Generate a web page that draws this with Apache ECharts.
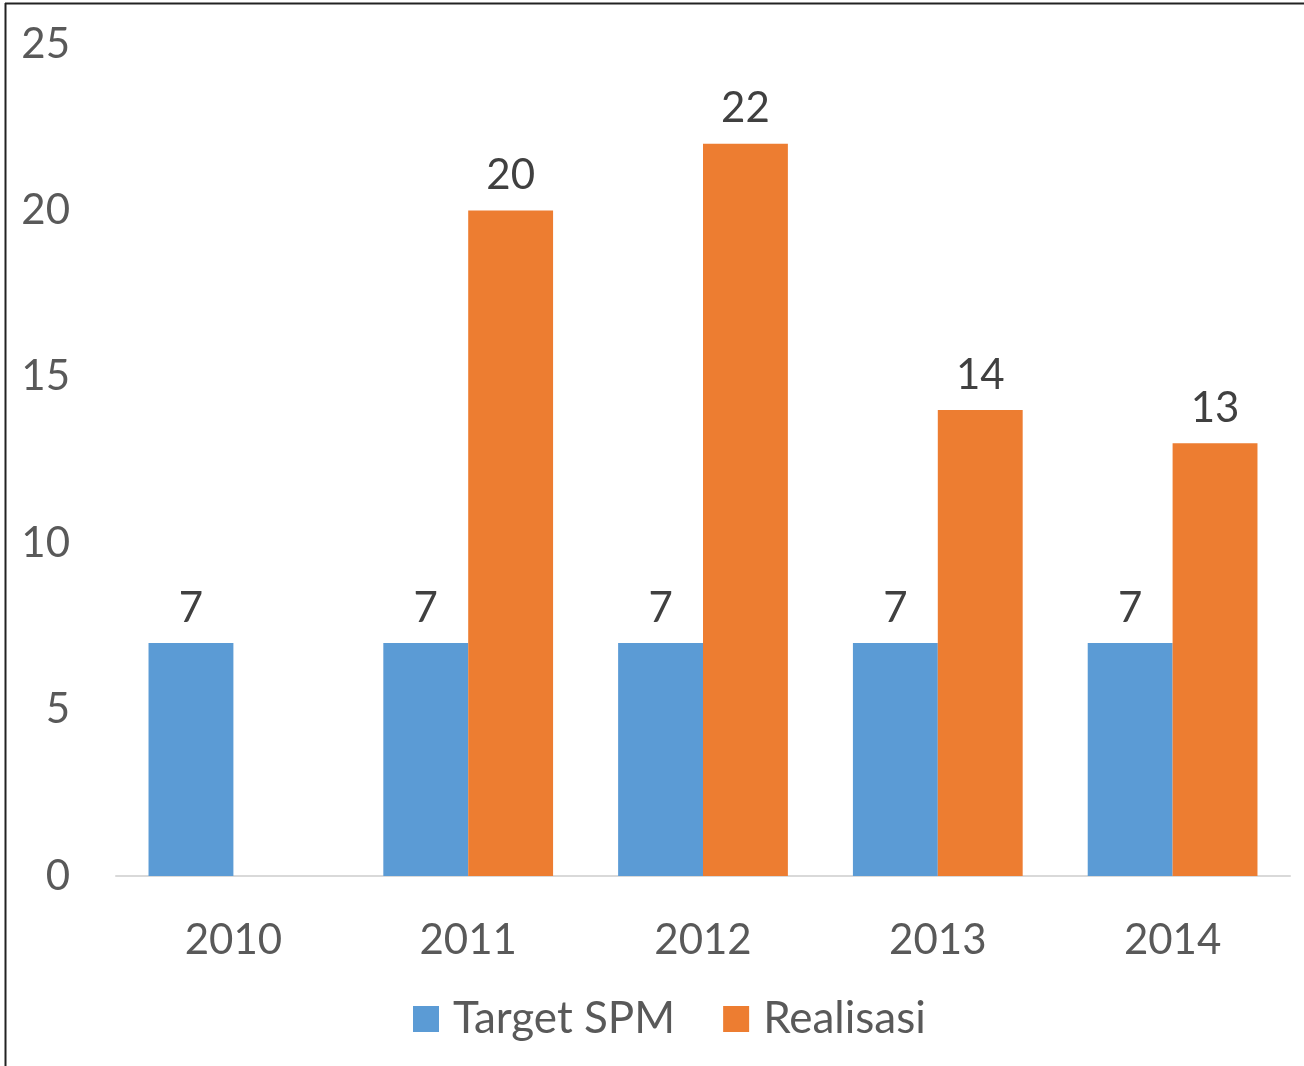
<!DOCTYPE html>
<html><head><meta charset="utf-8">
<script src="https://cdn.jsdelivr.net/npm/echarts@6/dist/echarts.min.js"></script>
<style>html,body{margin:0;padding:0;background:#fff}#c{width:1304px;height:1066px}</style>
</head><body><div id="c"></div>
<script>
const categories = ['2010','2011','2012','2013','2014'];
const targetSPM = [7, 7, 7, 7, 7];
const realisasi = [null, 20, 22, 14, 13];
const yTicks = {min: 0, max: 25, interval: 5};

const FONT = 'Lato';
const chart = echarts.init(document.getElementById('c'), null, {renderer: 'canvas'});
const labelStyle = {show: true, position: 'top', distance: 14, color: '#404040', fontSize: 42, fontFamily: FONT};
chart.setOption({
  backgroundColor: '#fff',
  animation: false,
  grid: {left: 116, right: 14, top: 44, bottom: 190, containLabel: false},
  xAxis: {
    type: 'category', data: categories,
    axisLine: {lineStyle: {color: '#d9d9d9', width: 2}},
    axisTick: {show: false},
    axisLabel: {color: '#595959', fontSize: 42, fontFamily: FONT, margin: 43}
  },
  yAxis: {
    type: 'value', min: yTicks.min, max: yTicks.max, interval: yTicks.interval,
    axisLine: {show: false}, axisTick: {show: false}, splitLine: {show: false},
    axisLabel: {color: '#595959', fontSize: 42, fontFamily: FONT, margin: 46}
  },
  legend: {
    bottom: 20, left: 408,
    itemWidth: 26, itemHeight: 26, itemGap: 48,
    icon: 'rect',
    textStyle: {color: '#595959', fontSize: 44, fontFamily: FONT, padding: [0,0,0,9]},
    data: ['Target SPM', 'Realisasi']
  },
  series: [
    {name: 'Target SPM', type: 'bar', data: targetSPM, barGap: '0%', barCategoryGap: '27.7%',
     itemStyle: {color: '#5B9BD5'}, label: labelStyle},
    {name: 'Realisasi', type: 'bar', data: realisasi, barGap: '0%', barCategoryGap: '27.7%',
     itemStyle: {color: '#ED7D31'}, label: labelStyle}
  ],
  graphic: [
    {type: 'line', shape: {x1: 5.5, y1: 3, x2: 5.5, y2: 1066}, style: {stroke: '#222', lineWidth: 2}},
    {type: 'line', shape: {x1: 5, y1: 3.5, x2: 1304, y2: 3.5}, style: {stroke: '#222', lineWidth: 2}}
  ]
});
</script></body></html>
